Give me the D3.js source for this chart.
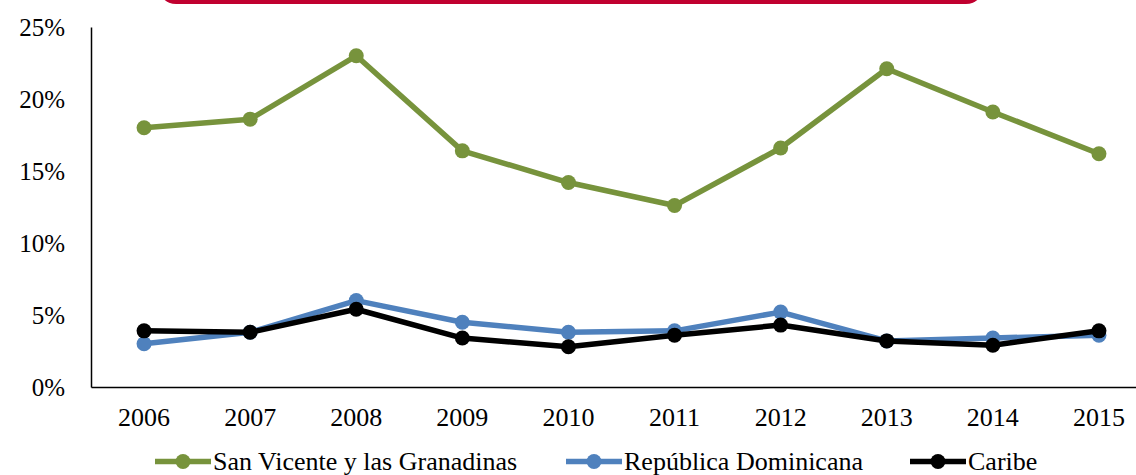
<!DOCTYPE html>
<html><head><meta charset="utf-8">
<script src="https://cdn.jsdelivr.net/npm/d3@7"></script>
<style>body{margin:0;background:#fff;overflow:hidden}svg{display:block}
svg text{font-family:"Liberation Serif","Times New Roman",Times,serif !important;}</style>
</head><body>
<svg id="c" width="1136" height="475"></svg>
<script>
const years = ["2006","2007","2008","2009","2010","2011","2012","2013","2014","2015"];
const sanVicente = [18.0,18.6,23.0,16.4,14.2,12.6,16.6,22.1,19.1,16.2];
const repDominicana = [3.0,3.8,6.0,4.5,3.8,3.9,5.2,3.2,3.4,3.6];
const caribe = [3.9,3.8,5.4,3.4,2.8,3.6,4.3,3.2,2.9,3.9];
const yTicks = [0,5,10,15,20,25];
const seriesNames = ["San Vicente y las Granadinas","República Dominicana","Caribe"];
const seriesColors = ["#77933c","#4f81bd","#000000"];

(function(){
const svg = d3.select("#c");
const mLeft = 91, mBottom = 387, mTop = 27;
const bw = 106.1;
const x = d3.scaleBand().domain(years).range([mLeft, mLeft + bw*years.length]);
const y = d3.scaleLinear().domain([0,25]).range([mBottom, mTop]);

// red header box (cropped)
svg.append("rect").attr("x",158).attr("y",-40).attr("width",826).attr("height",44)
  .attr("rx",18).attr("ry",18).attr("fill","#c0002f");

// axes
const yAxis = d3.axisLeft(y).tickValues(yTicks).tickSize(0).tickPadding(26).tickFormat(d=>d+"%");
const gy = svg.append("g").attr("transform",`translate(${mLeft},0)`).call(yAxis);
gy.select(".domain").attr("stroke","#000").attr("stroke-width",1.5);
gy.selectAll("text").style("font-size","25px").attr("fill","#000");

const xAxis = d3.axisBottom(x).tickSize(0).tickPadding(21);
const gx = svg.append("g").attr("transform",`translate(0,${mBottom})`).call(xAxis);
gx.select(".domain").attr("stroke","#000").attr("stroke-width",1.5);
gx.selectAll("text").style("font-size","26px").attr("fill","#000");

const data = [sanVicente, repDominicana, caribe];
const line = d3.line().x((d,i)=>x(years[i])+x.bandwidth()/2).y(d=>y(d));
data.forEach((vals,k)=>{
  const g = svg.append("g");
  g.append("path").attr("d",line(vals)).attr("fill","none")
    .attr("stroke",seriesColors[k]).attr("stroke-width",5.5).attr("stroke-linejoin","round");
  g.selectAll("circle").data(vals).join("circle")
    .attr("cx",(d,i)=>x(years[i])+x.bandwidth()/2).attr("cy",d=>y(d)).attr("r",7.5)
    .attr("fill",seriesColors[k]);
});

// legend
const legX = [155, 566, 910];
const ly = 461.5;
seriesNames.forEach((n,k)=>{
  const g = svg.append("g").attr("transform",`translate(${legX[k]},${ly})`);
  g.append("line").attr("x1",0).attr("x2",56).attr("y1",0).attr("y2",0)
    .attr("stroke",seriesColors[k]).attr("stroke-width",5.5);
  g.append("circle").attr("cx",28).attr("cy",0).attr("r",7.5).attr("fill",seriesColors[k]);
  g.append("text").attr("x",58).attr("y",8).style("font-size","26px")
    .attr("fill","#000").text(n);
});
})();
</script>
</body></html>
